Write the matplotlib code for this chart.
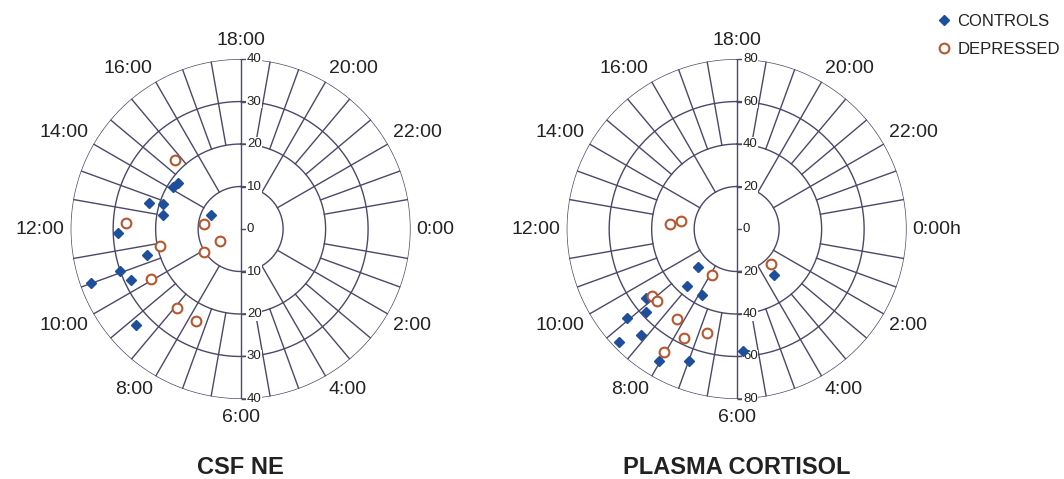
import numpy as np
import matplotlib
matplotlib.use('Agg')
import matplotlib.pyplot as plt

plt.rcParams['font.family'] = ['Liberation Sans', 'DejaVu Sans']

# acrophase (clock hour) and amplitude
csf_ctrl_time = [13.68, 14.14, 14.44, 13.05, 13.19, 12.68, 11.87, 10.96, 10.73, 10.34, 10.67, 9.17]
csf_ctrl_amp = [7.7, 18.7, 18.3, 22.3, 19.3, 18.6, 28.8, 22.8, 30.0, 28.5, 37.5, 33.4]
csf_dep_time = [15.09, 12.21, 12.51, 9.98, 11.22, 9.89, 10.05, 8.61, 7.73]
csf_dep_amp = [22.4, 26.9, 8.6, 5.5, 19.4, 10.2, 24.3, 23.9, 24.2]

cort_ctrl_time = [9.07, 8.74, 7.86, 9.53, 9.17, 9.41, 8.81, 9.07, 8.03, 7.33, 5.79, 3.39]
cort_ctrl_amp = [25.5, 35.4, 35.2, 53.7, 57.8, 66.4, 67.2, 76.9, 72.0, 66.1, 57.5, 28.1]
cort_dep_time = [12.29, 12.54, 7.9, 9.45, 9.21, 8.22, 7.07, 7.73, 8.03, 3.05]
cort_dep_amp = [31.5, 26.6, 24.6, 50.9, 50.6, 50.9, 51.1, 56.8, 67.4, 23.2]

hours = [18, 20, 22, 0, 2, 4, 6, 8, 10, 12, 14, 16]
csf_rings = [10, 20, 30, 40]
cort_rings = [20, 40, 60, 80]

GRID = '#4b4868'
BLUE = '#1d4f9c'
RUST = '#b8562e'
TXT = '#222222'


def hour_to_theta(t):
    return (np.asarray(t) - 18) * 2 * np.pi / 24


def draw_dial(ax, rings, zero_label):
    rmax = rings[-1]
    ax.set_theta_zero_location('N')
    ax.set_theta_direction(-1)
    ax.set_ylim(0, rmax)
    ax.set_xticks([])
    ax.set_yticks([])
    ax.grid(False)
    ax.spines['polar'].set_visible(False)
    ax.patch.set_alpha(0)

    # rings
    th = np.linspace(0, 2 * np.pi, 400)
    for r in rings:
        ax.plot(th, np.full_like(th, r), color=GRID, lw=1.0, zorder=2)

    # spokes every 40 min; every 2 h they reach the inner ring
    for k in range(36):
        t = 18 + k * 2 / 3
        if k % 9 == 0:
            continue  # vertical axis drawn separately
        r0 = rings[0] if k % 3 == 0 else rings[1]
        ax.plot([hour_to_theta(t)] * 2, [r0, rmax], color=GRID, lw=1.0, zorder=2)

    # vertical value axis through the centre
    ax.plot([0, 0], [0, rmax], color=GRID, lw=1.0, zorder=2)
    ax.plot([np.pi, np.pi], [0, rmax], color=GRID, lw=1.0, zorder=2)
    for v in [0] + rings:
        for th0 in ([0] if v == 0 else [0, np.pi]):
            ax.plot([th0], [v], marker=1, ms=3.5, mew=1.0, color=GRID,
                    clip_on=False, zorder=4)
            ax.annotate(str(v), xy=(th0, v), xytext=(4.5, 0), textcoords='offset points',
                        ha='left', va='center', fontsize=9.5, color=TXT, zorder=5,
                        annotation_clip=False,
                        bbox=dict(boxstyle='square,pad=0.05', fc='white', ec='none'))

    # clock labels
    for h in hours:
        phi = np.deg2rad(90 - (h - 18) * 15)
        c, s = np.cos(phi), np.sin(phi)
        ha = 'left' if c > 0.1 else ('right' if c < -0.1 else 'center')
        va = 'bottom' if s > 0.1 else ('top' if s < -0.1 else 'center')
        lab = zero_label if h == 0 else f'{h}:00'
        rf = 1.06 if abs(c) < 0.1 else 1.035
        ax.text(hour_to_theta(h), rmax * rf, lab, ha=ha, va=va, fontsize=14,
                color=TXT, clip_on=False)


fig = plt.figure(figsize=(10.64, 4.79), dpi=100)
ax1 = fig.add_axes([0.0664, 0.1670, 0.3195, 0.7098], projection='polar')
ax2 = fig.add_axes([0.5326, 0.1670, 0.3195, 0.7098], projection='polar')

draw_dial(ax1, csf_rings, '0:00')
draw_dial(ax2, cort_rings, '0:00h')

ctrl_style = dict(ls='none', marker='D', ms=5.5, color=BLUE, mec=BLUE, zorder=6, clip_on=False)
dep_style = dict(ls='none', marker='o', ms=7, mfc='white', mec=RUST, mew=1.5, zorder=6, clip_on=False)

h_ctrl, = ax1.plot(hour_to_theta(csf_ctrl_time), csf_ctrl_amp, **ctrl_style)
h_dep, = ax1.plot(hour_to_theta(csf_dep_time), csf_dep_amp, **dep_style)
ax2.plot(hour_to_theta(cort_ctrl_time), cort_ctrl_amp, **ctrl_style)
ax2.plot(hour_to_theta(cort_dep_time), cort_dep_amp, **dep_style)

fig.text(240.7 / 1064, 1 - 467 / 479, 'CSF NE', ha='center', va='center',
         fontsize=17, fontweight='bold', color=TXT)
fig.text(736.7 / 1064, 1 - 467 / 479, 'PLASMA CORTISOL', ha='center', va='center',
         fontsize=17, fontweight='bold', color=TXT)

fig.legend([h_ctrl, h_dep], ['CONTROLS', 'DEPRESSED'], loc='upper left',
           bbox_to_anchor=(929 / 1064, 1 - 6 / 479), frameon=False, fontsize=12,
           handlelength=0.8, handletextpad=0.4, labelspacing=0.75, borderpad=0,
           labelcolor=TXT)

fig.savefig('out.png', dpi=100, facecolor='white')
